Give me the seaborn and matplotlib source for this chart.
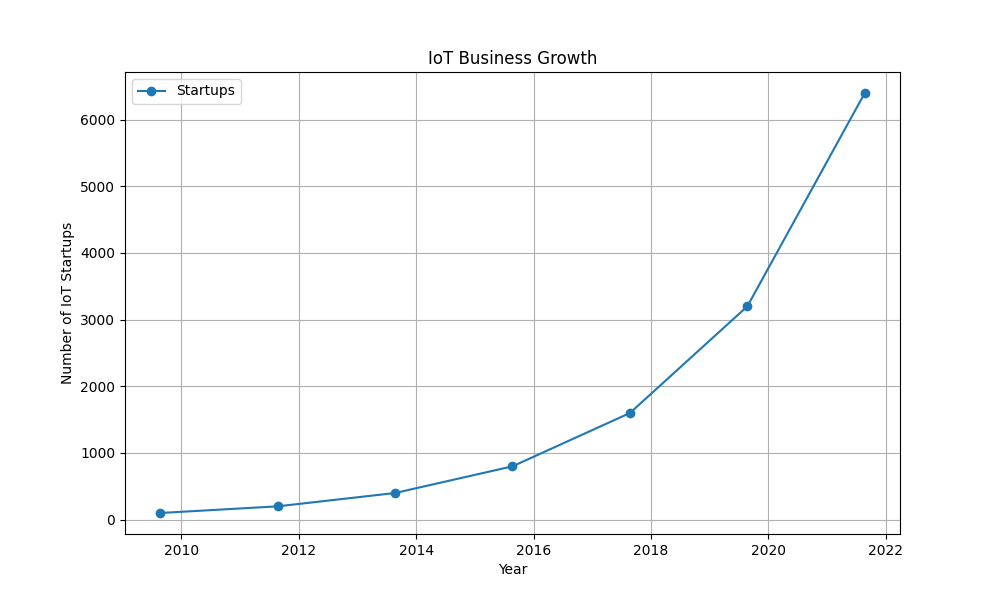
import matplotlib
matplotlib.use("Agg")
import matplotlib.pyplot as plt
import seaborn as sns
import pandas as pd

years = [2009.64, 2011.64, 2013.64, 2015.64, 2017.64, 2019.64, 2021.64]
startups = [100, 200, 400, 800, 1600, 3200, 6400]

df = pd.DataFrame({"Year": years, "Startups": startups})

fig, ax = plt.subplots(figsize=(10, 6), dpi=100)
sns.lineplot(data=df, x="Year", y="Startups", marker="o", markersize=7,
             markeredgewidth=0, color="#1f77b4", label="Startups", ax=ax)
ax.set_title("IoT Business Growth")
ax.set_xlabel("Year")
ax.set_ylabel("Number of IoT Startups")
ax.grid(True)
ax.legend(loc="upper left")
plt.savefig("out.png", dpi=100)
